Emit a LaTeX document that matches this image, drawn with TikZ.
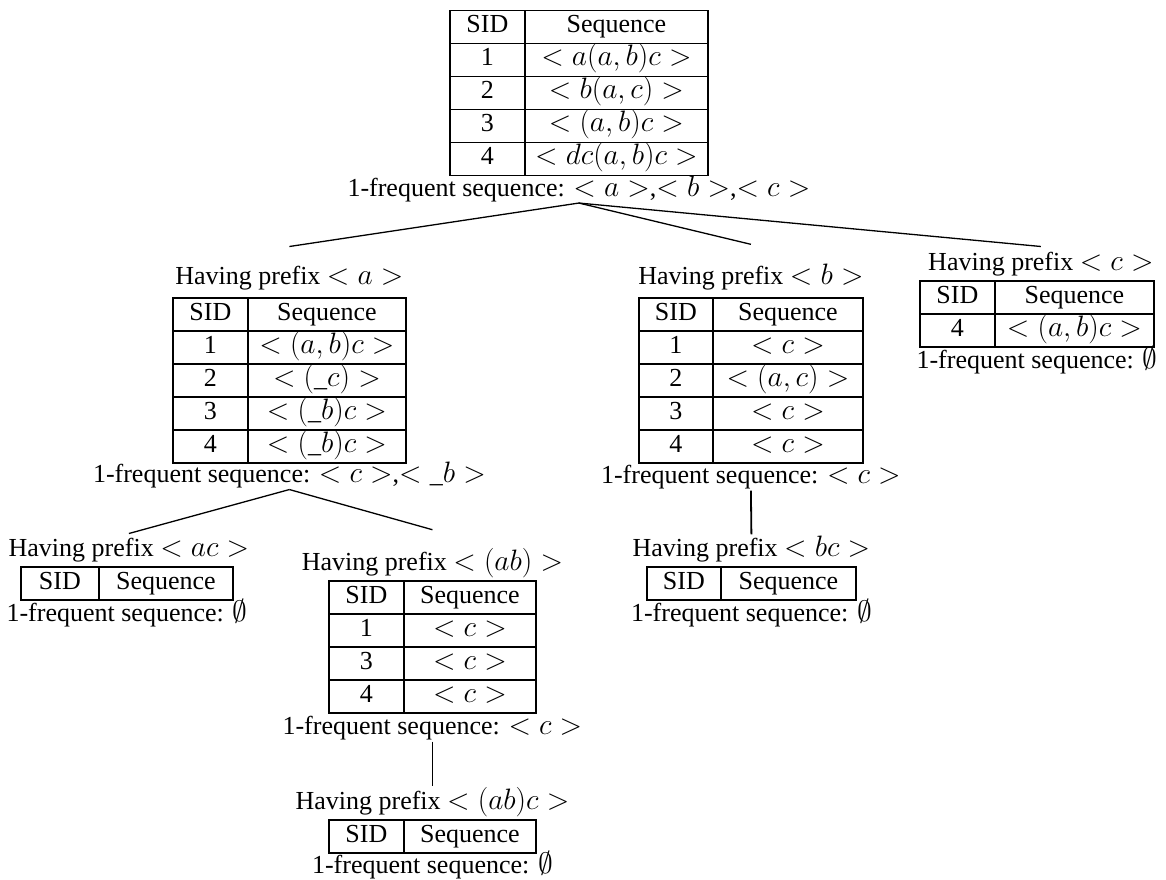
\RequirePackage{fix-cm}
\documentclass[tikz,border=0pt]{standalone}
\usepackage{fontspec}
\setmainfont{Liberation Serif}
% formulas are set a little larger than the surrounding text
\DeclareMathSizes{26}{29.5}{21}{16}
\usetikzlibrary{matrix}

\begin{document}
\begin{tikzpicture}[x=1pt,y=-1pt,
  every node/.style={font=\fontsize{26}{31}\selectfont},
  seqtab/.style={matrix of nodes, inner sep=0pt, outer sep=0pt,
    column sep=-1.8pt, row sep=-1.8pt, anchor=north west,
    nodes={draw, line width=1.8pt, inner sep=0pt, minimum height=33pt,
      text height=18pt, text depth=6pt, anchor=center}},
  cols/.style 2 args={column 1/.style={nodes={minimum width=#1}},
                      column 2/.style={nodes={minimum width=#2}}},
  caption/.style={inner sep=1pt, anchor=base},
  link/.style={line width=1.3pt},
  stem/.style={line width=1.8pt},
]
\useasboundingbox (0,0) rectangle (1166,879);

% root database
\matrix[seqtab, cols={75pt}{183pt}] (t0) at (449,9.5) {
  SID & Sequence \\
  1 & $<a(a,b)c>$ \\
  2 & $<b(a,c)>$ \\
  3 & $<(a,b)c>$ \\
  4 & $<dc(a,b)c>$ \\
};
\node[caption] (f0) at ([yshift=-20pt]t0.south) {1-frequent sequence: $<a>$,$<b>$,$<c>$};

% projected database for prefix <a>
\matrix[seqtab, cols={75pt}{158pt}] (ta) at (172,297) {
  SID & Sequence \\
  1 & $<(a,b)c>$ \\
  2 & $<(\_c)>$ \\
  3 & $<(\_b)c>$ \\
  4 & $<(\_b)c>$ \\
};
\node[caption] (ha) at ([yshift=13pt]ta.north) {Having prefix $<a>$};
\node[caption] (fa) at ([yshift=-19pt]ta.south) {1-frequent sequence: $<c>$,$<\_b>$};

% projected database for prefix <b>
\matrix[seqtab, cols={74pt}{150pt}] (tb) at (638,297) {
  SID & Sequence \\
  1 & $<c>$ \\
  2 & $<(a,c)>$ \\
  3 & $<c>$ \\
  4 & $<c>$ \\
};
\node[caption] (hb) at ([yshift=13pt]tb.north) {Having prefix $<b>$};
\node[caption] (fb) at ([yshift=-20pt]tb.south) {1-frequent sequence: $<c>$};

% projected database for prefix <c>
\matrix[seqtab, cols={75pt}{159pt}] (tc) at (919,280) {
  SID & Sequence \\
  4 & $<(a,b)c>$ \\
};
\node[caption] (hc) at ([xshift=4pt,yshift=10pt]tc.north) {Having prefix $<c>$};
\node[caption] (fc) at ([yshift=-21pt]tc.south) {1-frequent sequence: $\emptyset$};

% projected database for prefix <ac>
\matrix[seqtab, cols={78pt}{134pt}] (tac) at (20,566) {
  SID & Sequence \\
};
\node[caption] (hac) at ([xshift=2pt,yshift=10pt]tac.north) {Having prefix $<ac>$};
\node[caption] (fac) at ([yshift=-21pt]tac.south) {1-frequent sequence: $\emptyset$};

% projected database for prefix <(ab)>
\matrix[seqtab, cols={75pt}{132pt}] (tab) at (328,580) {
  SID & Sequence \\
  1 & $<c>$ \\
  3 & $<c>$ \\
  4 & $<c>$ \\
};
\node[caption] (hab) at ([yshift=10pt]tab.north) {Having prefix $<(ab)>$};
\node[caption] (fab) at ([yshift=-21pt]tab.south) {1-frequent sequence: $<c>$};

% projected database for prefix <(ab)c>
\matrix[seqtab, cols={75pt}{132pt}] (tabc) at (328,819) {
  SID & Sequence \\
};
\node[caption] (habc) at ([yshift=10pt]tabc.north) {Having prefix $<(ab)c>$};
\node[caption] (fabc) at ([yshift=-20pt]tabc.south) {1-frequent sequence: $\emptyset$};

% projected database for prefix <bc>
\matrix[seqtab, cols={74pt}{135pt}] (tbc) at (646,566) {
  SID & Sequence \\
};
\node[caption] (hbc) at ([yshift=10pt]tbc.north) {Having prefix $<bc>$};
\node[caption] (fbc) at ([yshift=-21pt]tbc.south) {1-frequent sequence: $\emptyset$};

% tree edges
\draw[link] (f0.south) -- ([yshift=18pt]ha.north);
\draw[link] (f0.south) -- ([yshift=18pt]hb.north);
\draw[link] (f0.south) -- ([yshift=4pt]hc.north);
\draw[link] (fa.south) -- ([yshift=3pt]hac.north);
\draw[link] (fa.south) -- ([yshift=17pt]hab.north);
\draw[stem] (fb.south) -- (hbc.north);
\draw[stem] (fab.south) -- (habc.north);
\end{tikzpicture}
\end{document}
